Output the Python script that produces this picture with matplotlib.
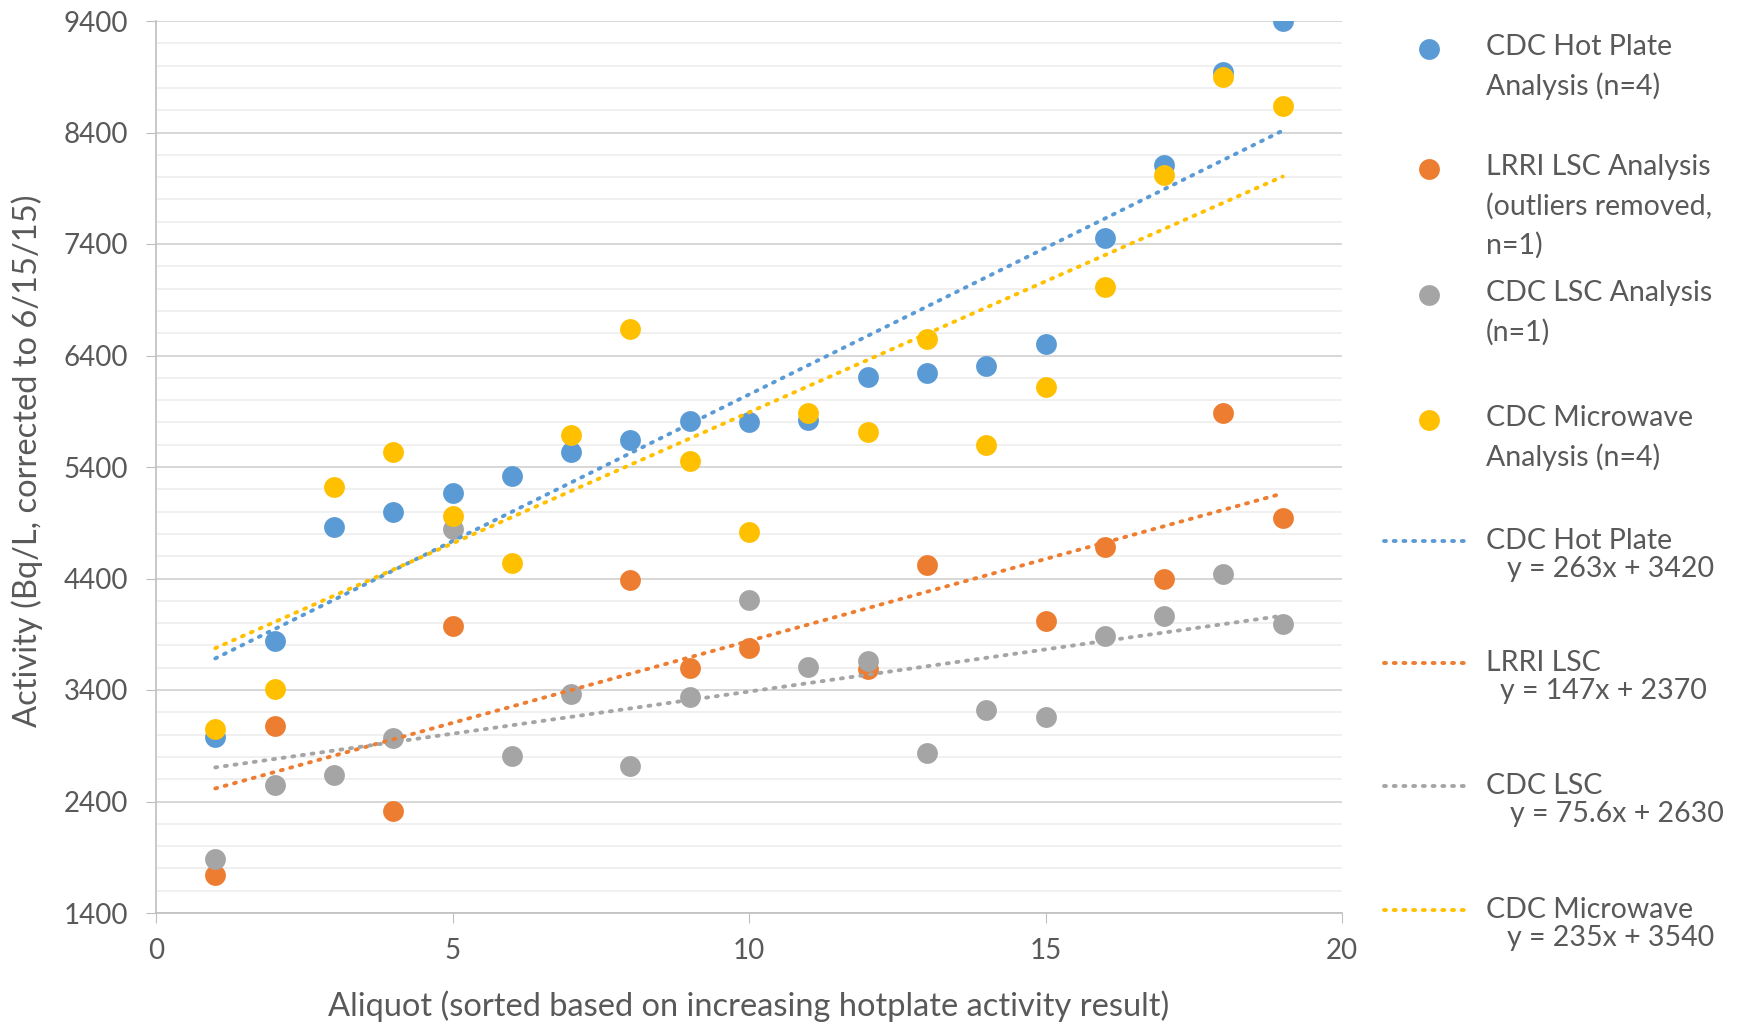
import matplotlib.pyplot as plt
from matplotlib.lines import Line2D
import numpy as np

plt.rcParams['font.family'] = ['Lato', 'DejaVu Sans']

# ── Data ──────────────────────────────────────────────────────────────────────
aliquot   = list(range(1, 20))
hotplate  = [2980, 3840, 4865, 5000, 5165, 5320, 5535, 5640, 5810, 5805,
             5820, 6205, 6240, 6310, 6505, 7450, 8105, 8945, 9400]
lrri_x    = [1, 2, 4, 5, 8, 9, 10, 12, 13, 15, 16, 17, 18, 19]
lrri      = [1745, 3080, 2315, 3970, 4390, 3595, 3775, 3590, 4520, 4020,
             4680, 4395, 5885, 4945]
cdc_lsc   = [1885, 2545, 2635, 2970, 4845, 2805, 3360, 2715, 3340, 4205,
             3605, 3660, 2835, 3220, 3160, 3885, 4060, 4440, 3995]
microwave = [3050, 3405, 5220, 5535, 4965, 4540, 5690, 6640, 5450, 4820,
             5885, 5715, 6545, 5595, 6115, 7015, 8020, 8895, 8635]

series_labels = ["CDC Hot Plate\nAnalysis (n=4)",
                 "LRRI LSC Analysis\n(outliers removed,\nn=1)",
                 "CDC LSC Analysis\n(n=1)",
                 "CDC Microwave\nAnalysis (n=4)"]
trend_names = ["CDC Hot Plate", "LRRI LSC", "CDC LSC", "CDC Microwave"]
slopes      = [263, 147, 75.6, 235]
intercepts  = [3420, 2370, 2630, 3540]

COLORS = ["#5B9BD5", "#ED7D31", "#A5A5A5", "#FFC000"]
TEXT_C = "#595959"
DOTS = (0, (0.5, 2.0))

W, H = 1744, 1027
fx = lambda px: px / W
fy = lambda py: 1 - py / H

fig = plt.figure(figsize=(W / 100, H / 100), dpi=100)
ax = fig.add_axes([fx(156), fy(913), fx(1342 - 156), (913 - 21) / H])

xs_list = [aliquot, lrri_x, aliquot, aliquot]
ys_list = [hotplate, lrri, cdc_lsc, microwave]

for xs, ys, c in zip(xs_list, ys_list, COLORS):
    ax.plot(xs, ys, "o", ms=15, color=c, mec="none", zorder=3)

# linear trendlines from the fitted equations
for xs, m, b, c in zip(xs_list, slopes, intercepts, COLORS):
    tx = np.array([min(xs), max(xs)])
    ax.plot(tx, m * tx + b, color=c, lw=2.8, linestyle=DOTS,
            dash_capstyle="round", zorder=4)

ax.set_xlim(0, 20)
ax.set_ylim(1400, 9400)
ax.set_xticks([0, 5, 10, 15, 20])
ax.set_yticks(np.arange(1400, 9401, 1000))
ax.set_yticks(np.arange(1400, 9401, 200), minor=True)
ax.grid(axis="y", which="major", color="#d4d4d4", lw=1.3)
ax.grid(axis="y", which="minor", color="#ececec", lw=1.1)
ax.set_axisbelow(True)
for s in ["top", "right"]:
    ax.spines[s].set_visible(False)
for s in ["left", "bottom"]:
    ax.spines[s].set_color("#bfbfbf")
    ax.spines[s].set_linewidth(1.2)
ax.tick_params(axis="both", which="major", direction="out", length=7,
               color="#bfbfbf", labelcolor=TEXT_C, labelsize=20)
ax.tick_params(axis="y", which="major", pad=13)
ax.tick_params(axis="x", which="major", pad=11)
ax.tick_params(axis="y", which="minor", length=0)

fig.text(fx(749), fy(1006), "Aliquot (sorted based on increasing hotplate activity result)",
         ha="center", va="center", fontsize=23.5, color=TEXT_C)
fig.text(fx(27), fy(461), "Activity (Bq/L, corrected to 6/15/15)",
         ha="center", va="center", rotation=90, fontsize=23.5, color=TEXT_C)

# ── Legend (drawn by hand to match the layout) ───────────────────────────────
marker_rows = [47, 167, 293, 418]
for lab, c, y0 in zip(series_labels, COLORS, marker_rows):
    fig.add_artist(Line2D([fx(1429)], [fy(y0 + 2)], marker="o", ms=15,
                          color=c, mec="none", transform=fig.transFigure))
    for i, line in enumerate(lab.split("\n")):
        fig.text(fx(1486), fy(y0 + i * 39), line, ha="left", va="center",
                 fontsize=20.5, color=TEXT_C)

trend_rows = [541, 663, 786, 910]
eq_x = [1507, 1500, 1510, 1507]
for name, m, b, c, y0, ex in zip(trend_names, slopes, intercepts, COLORS, trend_rows, eq_x):
    fig.add_artist(Line2D([fx(1384), fx(1468)], [fy(y0), fy(y0)], color=c, lw=2.8,
                          linestyle=DOTS, dash_capstyle="round",
                          transform=fig.transFigure))
    fig.text(fx(1486), fy(y0), name, ha="left", va="center", fontsize=20.5, color=TEXT_C)
    fig.text(fx(ex), fy(y0 + 28), f"y = {m:g}x + {b:g}", ha="left", va="center",
             fontsize=20.5, color=TEXT_C)

fig.savefig("out.png", dpi=100)
